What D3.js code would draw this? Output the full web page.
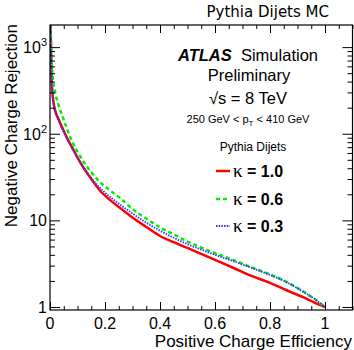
<!DOCTYPE html>
<html>
<head>
<meta charset="utf-8">
<script src="https://cdn.jsdelivr.net/npm/d3@7"></script>
<style>
  body { margin: 0; background: #fff; }
  text { font-family: "Liberation Sans", Arial, sans-serif; }
</style>
</head>
<body>
<div id="chart"></div>
<script>
// Data
const eff = [0.001, 0.003, 0.006, 0.01, 0.02, 0.03, 0.045, 0.06, 0.08, 0.1, 0.125, 0.15, 0.18, 0.22,
             0.26, 0.3, 0.35, 0.4, 0.45, 0.5, 0.55, 0.6, 0.67, 0.73, 0.8, 0.86, 0.92, 0.96, 1.0];
const rejK10 = [3000, 1200, 450, 270, 180, 150, 117, 92, 70, 53, 39, 30, 22.4, 17,
                13.5, 10.8, 8.4, 6.6, 5.6, 4.8, 4.1, 3.5, 2.8, 2.3, 1.9, 1.56, 1.3, 1.13, 1.0];
const rejK06 = [3000, 1500, 700, 450, 290, 220, 160, 118, 82, 62, 46, 36, 28, 22,
                17.5, 13.5, 10.5, 8.3, 6.9, 5.7, 4.85, 4.2, 3.45, 2.9, 2.38, 1.95, 1.52, 1.25, 1.0];
const rejK03 = [3000, 1200, 450, 270, 175, 145, 112, 90, 68, 53, 40, 31, 24, 18.5,
                14.8, 12, 9.4, 7.6, 6.3, 5.3, 4.6, 4.0, 3.35, 2.85, 2.35, 1.93, 1.5, 1.25, 1.0];
const seriesNames = ["\u03ba = 1.0", "\u03ba = 0.6", "\u03ba = 0.3"];
const seriesColors = ["#ff0000", "#00ee00", "#3333ff"];
const xTicks = [0, 0.2, 0.4, 0.6, 0.8, 1];
const xTickLabels = ["0", "0.2", "0.4", "0.6", "0.8", "1"];
const yTicks = [1, 10, 100, 1000];
const yTickBase = ["1", "10", "10", "10"];
const yTickExp = ["", "", "2", "3"];

const margin = {top: 25, right: 1.5, bottom: 40, left: 50},
      width = 354 - margin.left - margin.right,
      height = 350 - margin.top - margin.bottom;

const root = d3.select("#chart").append("svg")
    .attr("width", 354)
    .attr("height", 350);
const svg = root.append("g")
    .attr("transform", `translate(${margin.left},${margin.top})`);

const x = d3.scaleLinear().domain([0, 1.1]).range([0, width]);
const y = d3.scaleLog().domain([0.923, 1800]).range([height, 0]);

svg.append("clipPath").attr("id", "clip")
  .append("rect").attr("width", width).attr("height", height);

// curves
const series = [rejK10, rejK06, rejK03];
const dashes = [null, "4,3", "1.5,1.2"];
const widths = [2.5, 2.5, 1.8];
const line = d3.line()
    .x(d => x(d[0]))
    .y(d => y(d[1]))
    .curve(d3.curveMonotoneX);
series.forEach((s, i) => {
  svg.append("path")
    .datum(eff.map((e, j) => [e, s[j]]))
    .attr("clip-path", "url(#clip)")
    .attr("fill", "none")
    .attr("stroke", seriesColors[i])
    .attr("stroke-width", widths[i])
    .attr("stroke-dasharray", dashes[i])
    .attr("d", line);
});

// ticks (inside, on all four sides)
const xMinor = d3.range(0, 1.1001, 0.05).filter(v => xTicks.every(t => Math.abs(t - v) > 1e-6));
const yMinor = [];
[1, 10, 100, 1000].forEach(dec => { for (let k = 2; k <= 9; k++) if (dec * k < 1800) yMinor.push(dec * k); });

function ticks(axis, vals, size, transform) {
  const g = svg.append("g").attr("transform", transform)
    .call(axis.tickValues(vals).tickSize(size).tickFormat(""));
  g.select(".domain").remove();
  g.selectAll("line").attr("stroke", "#000");
}
ticks(d3.axisBottom(x), xTicks, -8, `translate(0,${height})`);
ticks(d3.axisBottom(x), xMinor, -4, `translate(0,${height})`);
ticks(d3.axisTop(x), xTicks, -8, "translate(0,0)");
ticks(d3.axisTop(x), xMinor, -4, "translate(0,0)");
ticks(d3.axisLeft(y), yTicks, -10, "translate(0,0)");
ticks(d3.axisLeft(y), yMinor, -5, "translate(0,0)");
ticks(d3.axisRight(y), yTicks, -10, `translate(${width},0)`);
ticks(d3.axisRight(y), yMinor, -5, `translate(${width},0)`);

// frame
svg.append("rect")
    .attr("width", width).attr("height", height)
    .attr("fill", "none").attr("stroke", "#000").attr("stroke-width", 1.2);

// tick labels
svg.selectAll(".xl").data(xTicks).enter().append("text")
    .attr("x", d => x(d))
    .attr("y", height + 19)
    .attr("text-anchor", "middle")
    .attr("font-size", 16)
    .text((d, i) => xTickLabels[i]);

const yl = svg.selectAll(".yl").data(yTicks).enter().append("text")
    .attr("x", -3)
    .attr("y", d => y(d) + 6)
    .attr("text-anchor", "end")
    .attr("font-size", 16);
yl.append("tspan").text((d, i) => yTickBase[i]);
yl.append("tspan").attr("font-size", 11).attr("dy", -7).text((d, i) => yTickExp[i]);

// axis titles
root.append("text")
    .attr("x", 352)
    .attr("y", 347)
    .attr("text-anchor", "end")
    .attr("font-size", 17)
    .text("Positive Charge Efficiency");
root.append("text")
    .attr("transform", "translate(17,24) rotate(-90)")
    .attr("text-anchor", "end")
    .attr("font-size", 17)
    .text("Negative Charge Rejection");

// top label
root.append("text")
    .attr("x", 329)
    .attr("y", 17)
    .attr("text-anchor", "end")
    .attr("font-size", 15)
    .style("font-family", "'DejaVu Sans', sans-serif")
    .text("Pythia Dijets MC");

// ATLAS block
const atlas = root.append("text")
    .attr("x", 248).attr("y", 61)
    .attr("text-anchor", "middle")
    .attr("font-size", 16.5);
atlas.append("tspan").attr("font-weight", "bold").attr("font-style", "italic").text("ATLAS");
atlas.append("tspan").text("\u00a0\u00a0Simulation");
root.append("text")
    .attr("x", 249).attr("y", 81)
    .attr("text-anchor", "middle")
    .attr("font-size", 16.5)
    .text("Preliminary");
root.append("text")
    .attr("x", 248).attr("y", 104)
    .attr("text-anchor", "middle")
    .attr("font-size", 16.5)
    .text("\u221as = 8 TeV");
const pt = root.append("text")
    .attr("x", 248).attr("y", 123)
    .attr("text-anchor", "middle")
    .attr("font-size", 11);
pt.append("tspan").text("250 GeV < p");
pt.append("tspan").attr("font-size", 8).attr("dy", 3).text("T");
pt.append("tspan").attr("dy", -3).text(" < 410 GeV");

// legend
root.append("text")
    .attr("x", 253).attr("y", 151)
    .attr("text-anchor", "middle")
    .attr("font-size", 12)
    .text("Pythia Dijets");
const legY = [171, 199, 226];
seriesNames.forEach((name, i) => {
  root.append("line")
    .attr("x1", 216).attr("x2", 230)
    .attr("y1", legY[i]).attr("y2", legY[i])
    .attr("stroke", seriesColors[i])
    .attr("stroke-width", widths[i])
    .attr("stroke-dasharray", dashes[i]);
  const t = root.append("text")
    .attr("x", 233).attr("y", legY[i] + 6)
    .attr("font-size", 16);
  t.append("tspan").style("font-family", "'Liberation Serif', serif").attr("font-size", 19).text(name.slice(0, 1));
  t.append("tspan").attr("font-weight", "bold").text(name.slice(1));
});
</script>
</body>
</html>
